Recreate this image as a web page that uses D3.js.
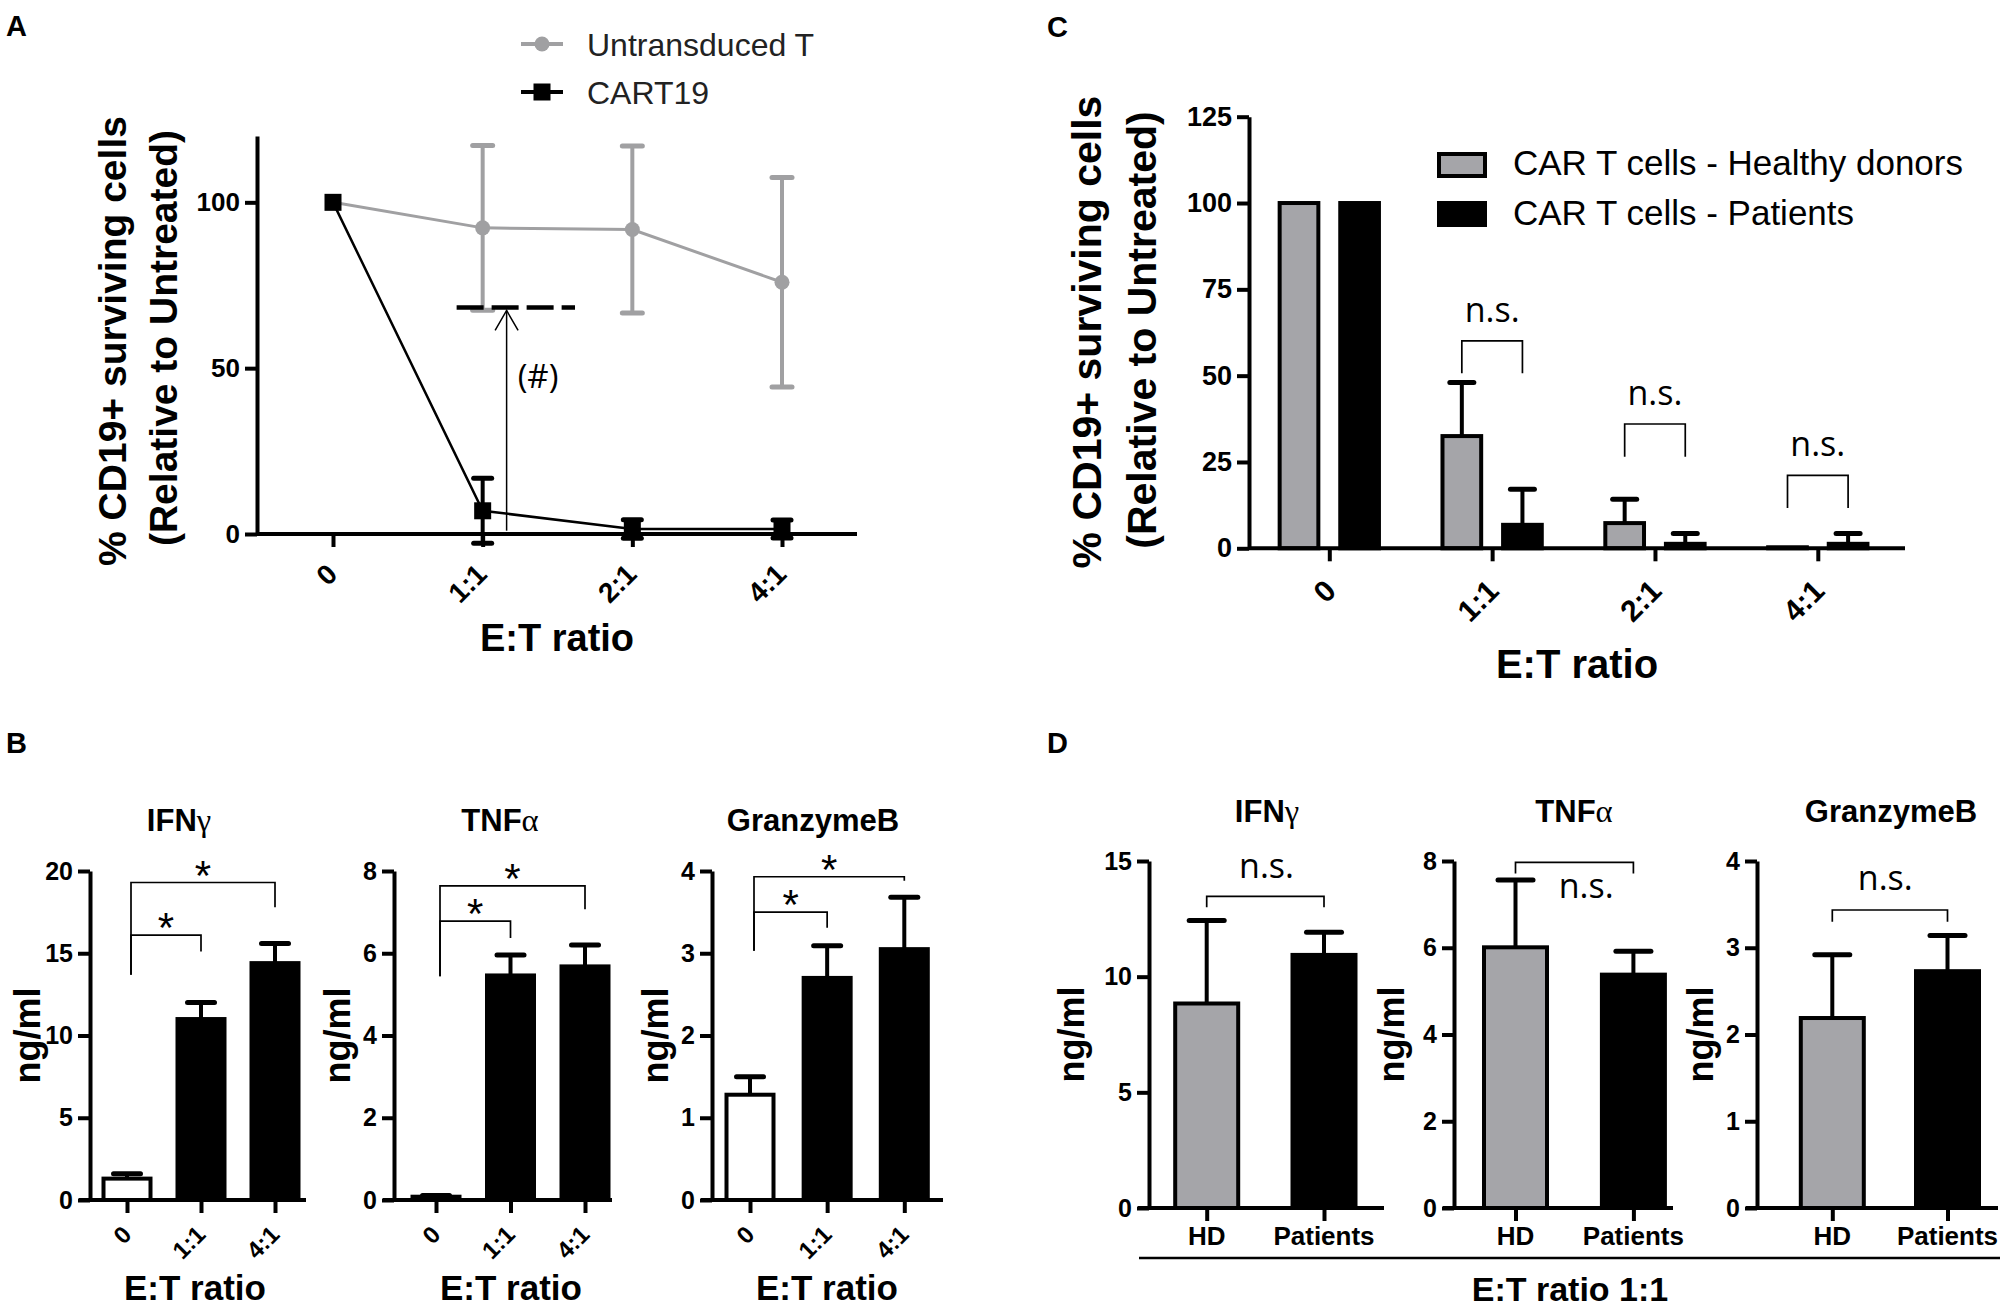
<!DOCTYPE html>
<html>
<head>
<meta charset="utf-8">
<script src="https://cdn.jsdelivr.net/npm/d3@7"></script>
<style>
  html, body { margin: 0; padding: 0; background: #fff; }
  svg { display: block; }
</style>
</head>
<body>
<svg id="fig" width="2008" height="1307"></svg>
<script>
// ---------------- data ----------------
// panel A : killing curve
const ratiosA = ["0", "1:1", "2:1", "4:1"];
const untransducedMean = [100, 92.3, 91.8, 75.9];
const untransducedErr  = [0, 24.8, 25.2, 31.6];
const cart19Mean = [100, 7.0, 1.5, 1.5];
const cart19Err  = [0, 9.8, 2.8, 2.7];
const yTicksA = [0, 50, 100];
const hashLevelA = 68.3;           // dashed reference line (#)

// panel C : healthy donors vs patients
const ratiosC = ["0", "1:1", "2:1", "4:1"];
const healthyMean = [100, 32.5, 7.3, 0.3];
const healthyErr  = [0, 15.5, 6.9, 0];
const patientsMean = [100, 6.8, 1.3, 1.3];
const patientsErr  = [0, 10.3, 3.0, 3.0];
const yTicksC = [0, 25, 50, 75, 100, 125];
const nsTopC    = [null, 60.1, 36.0, 21.1];
const nsBottomC = [null, 50.7, 26.5, 11.7];

// panel B : cytokines by E:T ratio
const ratiosB = ["0", "1:1", "4:1"];
const ifnB = [1.3, 11.0, 14.4],  ifnBErr = [0.3, 1.0, 1.2];
const tnfB = [0.08, 5.46, 5.68], tnfBErr = [0.03, 0.5, 0.52];
const gzbB = [1.28, 2.70, 3.05], gzbBErr = [0.22, 0.39, 0.63];
const yTicksB = [[0, 5, 10, 15, 20], [0, 2, 4, 6, 8], [0, 1, 2, 3, 4]];
// significance brackets: [level, left leg end, right leg end]
const sigB = [
  { low: [16.1, 13.7, 15.1], high: [19.3, 13.7, 17.8] },
  { low: [6.78, 5.44, 6.37], high: [7.64, 5.44, 7.07] },
  { low: [3.50, 3.03, 3.31], high: [3.93, 3.03, 3.88] }
];

// panel D : HD vs patients at 1:1
const groupsD = ["HD", "Patients"];
const ifnD = [8.84, 10.94], ifnDErr = [3.59, 0.98];
const tnfD = [6.01, 5.38],  tnfDErr = [1.55, 0.54];
const gzbD = [2.19, 2.73],  gzbDErr = [0.73, 0.41];
const yTicksD = [[0, 5, 10, 15], [0, 2, 4, 6, 8], [0, 1, 2, 3, 4]];
const nsD = [ // bracket level, leg end, label level
  [13.47, 13.0, 14.25],
  [7.97, 7.71, 7.15],
  [3.435, 3.30, 3.67]
];

// ---------------- helpers ----------------
const FONT = '"Liberation Sans", Arial, Helvetica, sans-serif';
const NS_FONT = '"Open Sans", "Liberation Sans", sans-serif';
const GRAY_A = "#a0a0a2";
const GRAY_BAR = "#a5a5a9";

const svg = d3.select("#fig");
svg.append("rect").attr("width", 2008).attr("height", 1307).attr("fill", "#fff");

function label(g, x, y, s, size, opts = {}) {
  return g.append("text")
    .attr("x", x).attr("y", y)
    .attr("font-family", opts.family || FONT)
    .attr("font-size", size)
    .attr("font-weight", opts.weight || "bold")
    .attr("text-anchor", opts.anchor || "middle")
    .attr("fill", opts.fill || "#000")
    .text(s);
}

function rotLabel(g, x, y, s, size) {
  g.append("text")
    .attr("transform", `translate(${x},${y}) rotate(-90)`)
    .attr("font-family", FONT).attr("font-size", size).attr("font-weight", "bold")
    .attr("text-anchor", "middle").text(s);
}

function title(g, x, y, parts, size) {
  const t = g.append("text").attr("x", x).attr("y", y)
    .attr("font-family", FONT).attr("font-size", size).attr("font-weight", "bold")
    .attr("text-anchor", "middle");
  t.append("tspan").text(parts[0]);
  if (parts[1]) t.append("tspan").attr("font-family", '"Liberation Serif", serif')
    .attr("font-weight", "normal").attr("font-size", size * 1.05).text(parts[1]);
}

function yAxis(g, y, x, ticks, size) {
  const a = g.append("g").attr("transform", `translate(${x},0)`)
    .call(d3.axisLeft(y).tickValues(ticks).tickFormat(d3.format("d"))
      .tickSize(12).tickPadding(5).tickSizeOuter(0));
  a.select(".domain").attr("stroke", "#000").attr("stroke-width", 4);
  a.selectAll(".tick line").attr("stroke", "#000").attr("stroke-width", 4);
  a.selectAll(".tick text").attr("font-family", FONT).attr("font-size", size)
    .attr("font-weight", "bold").attr("fill", "#000");
}

function xAxis(g, x, y0, x0, x1) {
  g.append("line").attr("x1", x0).attr("x2", x1).attr("y1", y0).attr("y2", y0)
    .attr("stroke", "#000").attr("stroke-width", 4);
  const a = g.append("g").attr("transform", `translate(0,${y0})`)
    .call(d3.axisBottom(x).tickSize(13).tickFormat("").tickSizeOuter(0));
  a.select(".domain").remove();
  a.selectAll(".tick line").attr("stroke", "#000").attr("stroke-width", 4);
}

function slantLabels(g, x, cats, y0, dx, dy, size) {
  g.selectAll(null).data(cats).join("text")
    .attr("transform", d => `translate(${x(d) + dx},${y0 + dy}) rotate(-45)`)
    .attr("text-anchor", "end").attr("dy", "0.35em")
    .attr("font-family", FONT).attr("font-size", size).attr("font-weight", "bold")
    .text(d => d);
}

function errBar(g, cx, yFrom, yTo, capW, color, w) {
  g.append("line").attr("x1", cx).attr("x2", cx).attr("y1", yFrom).attr("y2", yTo)
    .attr("stroke", color).attr("stroke-width", w);
  g.append("line").attr("x1", cx - capW / 2).attr("x2", cx + capW / 2).attr("y1", yTo).attr("y2", yTo)
    .attr("stroke", color).attr("stroke-width", w + 1).attr("stroke-linecap", "round");
}

function bracket(g, xL, xR, yLevel, yLeft, yRight) {
  g.append("path")
    .attr("d", `M${xL},${yLeft}V${yLevel}H${xR}V${yRight}`)
    .attr("fill", "none").attr("stroke", "#000").attr("stroke-width", 1.7);
}

// ---------------- panel letters ----------------
label(svg, 6, 36, "A", 29, { anchor: "start" });
label(svg, 6, 753, "B", 29, { anchor: "start" });
label(svg, 1047, 37, "C", 29, { anchor: "start" });
label(svg, 1047, 753, "D", 29, { anchor: "start" });

// ---------------- panel A ----------------
{
  const g = svg.append("g");
  const x = d3.scalePoint().domain(ratiosA).range([333, 782]);
  const y = d3.scaleLinear().domain([0, 120]).range([534, 136]);
  const step = x.step();

  xAxis(g, x, y(0), 257, 857);
  yAxis(g, y, 257, yTicksA, 26);
  slantLabels(g, x, ratiosA, y(0), -1, 35, 28);
  label(g, 557, 651, "E:T ratio", 38);
  rotLabel(g, 126, 341, "% CD19+ surviving cells", 39);
  rotLabel(g, 177, 338, "(Relative to Untreated)", 39);

  // untransduced T (gray)
  const line = d3.line().x((d, i) => x(ratiosA[i])).y(d => y(d));
  g.append("path").attr("d", line(untransducedMean)).attr("fill", "none")
    .attr("stroke", GRAY_A).attr("stroke-width", 3);
  untransducedMean.forEach((m, i) => {
    if (untransducedErr[i] > 0) {
      errBar(g, x(ratiosA[i]), y(m), y(m + untransducedErr[i]), 20, GRAY_A, 4);
      errBar(g, x(ratiosA[i]), y(m), y(m - untransducedErr[i]), 20, GRAY_A, 4);
    }
  });
  g.selectAll(null).data(untransducedMean).join("circle")
    .attr("cx", (d, i) => x(ratiosA[i])).attr("cy", d => y(d)).attr("r", 7.5).attr("fill", GRAY_A);

  // annotation (#)
  const xr = x("1:1");
  g.append("line").attr("x1", xr - 0.174 * step).attr("x2", xr + 0.617 * step)
    .attr("y1", y(hashLevelA)).attr("y2", y(hashLevelA))
    .attr("stroke", "#000").attr("stroke-width", 4.5).attr("stroke-dasharray", "27,8");
  const xa = xr + 0.16 * step;
  g.append("line").attr("x1", xa).attr("x2", xa).attr("y1", y(1)).attr("y2", y(hashLevelA) + 3)
    .attr("stroke", "#000").attr("stroke-width", 1.5);
  g.append("path").attr("d", `M${xa - 11.5},${y(hashLevelA) + 23}L${xa},${y(hashLevelA) + 3}L${xa + 11.5},${y(hashLevelA) + 23}`)
    .attr("fill", "none").attr("stroke", "#000").attr("stroke-width", 1.5);
  label(g, xr + 0.37 * step, y(44), "(#)", 33, { family: NS_FONT, weight: "normal" });

  // CART19 (black)
  g.append("path").attr("d", line(cart19Mean)).attr("fill", "none")
    .attr("stroke", "#000").attr("stroke-width", 2.5);
  cart19Mean.forEach((m, i) => {
    if (cart19Err[i] > 0) {
      errBar(g, x(ratiosA[i]), y(m), y(m + cart19Err[i]), 18, "#000", 4);
      errBar(g, x(ratiosA[i]), y(m), y(m - cart19Err[i]), 18, "#000", 4);
    }
  });
  g.selectAll(null).data(cart19Mean).join("rect")
    .attr("x", (d, i) => x(ratiosA[i]) - 8.5).attr("y", d => y(d) - 8.5)
    .attr("width", 17).attr("height", 17).attr("fill", "#000");

  // legend
  const lg = g.append("g");
  lg.append("line").attr("x1", 521).attr("x2", 563).attr("y1", 44).attr("y2", 44)
    .attr("stroke", GRAY_A).attr("stroke-width", 4);
  lg.append("circle").attr("cx", 542).attr("cy", 44).attr("r", 7.5).attr("fill", GRAY_A);
  label(lg, 587, 56, "Untransduced T", 32, { anchor: "start", weight: "normal", fill: "#222" });
  lg.append("line").attr("x1", 521).attr("x2", 563).attr("y1", 92).attr("y2", 92)
    .attr("stroke", "#000").attr("stroke-width", 4);
  lg.append("rect").attr("x", 533.5).attr("y", 83.5).attr("width", 17).attr("height", 17).attr("fill", "#000");
  label(lg, 587, 104, "CART19", 32, { anchor: "start", weight: "normal", fill: "#222" });
}

// ---------------- panel C ----------------
{
  const g = svg.append("g");
  const x = d3.scalePoint().domain(ratiosC).range([1329.3, 1817.8]);
  const y = d3.scaleLinear().domain([0, 125]).range([548.3, 116.7]);
  const off = 30.3, bw = 42.7;
  const series = [
    { mean: healthyMean, err: healthyErr, fill: GRAY_BAR, side: -1 },
    { mean: patientsMean, err: patientsErr, fill: "#000", side: 1 }
  ];
  series.forEach(s => {
    g.selectAll(null).data(s.mean).join("rect")
      .attr("x", (d, i) => x(ratiosC[i]) + s.side * off - (bw - 4) / 2)
      .attr("width", bw - 4)
      .attr("y", d => y(d)).attr("height", d => y(0) - y(d))
      .attr("fill", s.fill).attr("stroke", "#000").attr("stroke-width", 4);
    s.mean.forEach((m, i) => {
      if (s.err[i] > 0) errBar(g, x(ratiosC[i]) + s.side * off, y(m), y(m + s.err[i]), 24, "#000", 4);
    });
  });
  xAxis(g, x, y(0), 1249, 1905);
  yAxis(g, y, 1249, yTicksC, 27);
  slantLabels(g, x, ratiosC, y(0), 1, 37, 30);
  label(g, 1577, 678, "E:T ratio", 40);
  rotLabel(g, 1101, 332, "% CD19+ surviving cells", 41);
  rotLabel(g, 1156, 330, "(Relative to Untreated)", 41);

  ratiosC.forEach((r, i) => {
    if (nsTopC[i] == null) return;
    const xL = x(r) - off, xR = x(r) + off;
    bracket(g, xL, xR, y(nsTopC[i]), y(nsBottomC[i]), y(nsBottomC[i]));
    label(g, (xL + xR) / 2, y(nsTopC[i] + 5.5), "n.s.", 34, { family: NS_FONT, weight: "normal" });
  });

  // legend
  g.append("rect").attr("x", 1439).attr("y", 154).attr("width", 46).attr("height", 22)
    .attr("fill", GRAY_BAR).attr("stroke", "#000").attr("stroke-width", 4);
  label(g, 1513, 175, "CAR T cells - Healthy donors", 35, { anchor: "start", weight: "normal" });
  g.append("rect").attr("x", 1439).attr("y", 203).attr("width", 46).attr("height", 22)
    .attr("fill", "#000").attr("stroke", "#000").attr("stroke-width", 4);
  label(g, 1513, 225, "CAR T cells - Patients", 35, { anchor: "start", weight: "normal" });
}

// ---------------- bar panels B and D ----------------
function barPanel(c) {
  const g = svg.append("g");
  const x = d3.scalePoint().domain(c.cats).range(c.catRange);
  const y = d3.scaleLinear().domain([0, c.yMax]).range(c.yRange);
  g.selectAll(null).data(c.means).join("rect")
    .attr("x", (d, i) => x(c.cats[i]) - (c.barW - 4) / 2)
    .attr("width", c.barW - 4)
    .attr("y", d => y(d)).attr("height", d => y(0) - y(d))
    .attr("fill", (d, i) => c.fills[i]).attr("stroke", "#000").attr("stroke-width", 4);
  c.means.forEach((m, i) => errBar(g, x(c.cats[i]), y(m), y(m + c.errs[i]), c.capW, "#000", 4));
  xAxis(g, x, y(0), c.axisX - 11, c.axisEnd);
  yAxis(g, y, c.axisX, c.ticks, 25);
  title(g, c.titleX, c.titleY, c.title, 31);
  rotLabel(g, c.ylabX, (c.yRange[0] + c.yRange[1]) / 2, "ng/ml", 36);
  return { g, x, y };
}

const bCfg = [
  { title: ["IFN", "γ"], titleX: 179, axisX: 90, axisEnd: 306, catRange: [127, 275], yMax: 20,
    means: ifnB, errs: ifnBErr, ylabX: 40, etX: 195 },
  { title: ["TNF", "α"], titleX: 500, axisX: 394, axisEnd: 612, catRange: [436, 585], yMax: 8,
    means: tnfB, errs: tnfBErr, ylabX: 350, etX: 511 },
  { title: ["GranzymeB"], titleX: 813, axisX: 712, axisEnd: 943, catRange: [750, 904.3], yMax: 4,
    means: gzbB, errs: gzbBErr, ylabX: 668, etX: 827 }
];
bCfg.forEach((c, k) => {
  Object.assign(c, { cats: ratiosB, yRange: [1200, 871], ticks: yTicksB[k], titleY: 831,
    barW: 51, capW: 27, fills: ["#fff", "#000", "#000"] });
  const { g, x, y } = barPanel(c);
  slantLabels(g, x, ratiosB, y(0), 0, 30, 24);
  label(g, c.etX, 1300, "E:T ratio", 35);
  const s = sigB[k];
  const x0 = x("0") + 4;
  bracket(g, x0, x("4:1"), y(s.high[0]), y(s.high[1]), y(s.high[2]));
  bracket(g, x0, x("1:1"), y(s.low[0]), y(s.low[1]), y(s.low[2]));
  label(g, (x0 + x("4:1")) / 2, y(s.high[0]) + 7, "*", 42, { weight: "normal" });
  label(g, (x0 + x("1:1")) / 2, y(s.low[0]) + 7, "*", 42, { weight: "normal" });
});

const dCfg = [
  { title: ["IFN", "γ"], titleX: 1267, axisX: 1149, axisEnd: 1384, catRange: [1206.7, 1324], yMax: 15,
    means: ifnD, errs: ifnDErr, ylabX: 1084, nsT: 0.51 },
  { title: ["TNF", "α"], titleX: 1574, axisX: 1454, axisEnd: 1673, catRange: [1515.5, 1633.4], yMax: 8,
    means: tnfD, errs: tnfDErr, ylabX: 1404, nsT: 0.60 },
  { title: ["GranzymeB"], titleX: 1891, axisX: 1757, axisEnd: 1998, catRange: [1832.3, 1947.5], yMax: 4,
    means: gzbD, errs: gzbDErr, ylabX: 1713, nsT: 0.46 }
];
dCfg.forEach((c, k) => {
  Object.assign(c, { cats: groupsD, yRange: [1208, 861], ticks: yTicksD[k], titleY: 822,
    barW: 67, capW: 35, fills: [GRAY_BAR, "#000"] });
  const { g, x, y } = barPanel(c);
  groupsD.forEach(d => label(g, x(d), 1245, d, 26));
  const n = nsD[k];
  bracket(g, x("HD"), x("Patients"), y(n[0]), y(n[1]), y(n[1]));
  const xm = x("HD") + c.nsT * (x("Patients") - x("HD"));
  label(g, xm, y(n[2]), "n.s.", 34, { family: NS_FONT, weight: "normal" });
});
svg.append("line").attr("x1", 1139).attr("x2", 2000).attr("y1", 1258).attr("y2", 1258)
  .attr("stroke", "#000").attr("stroke-width", 2.5);
label(svg, 1570, 1301, "E:T ratio 1:1", 34);
</script>
</body>
</html>
